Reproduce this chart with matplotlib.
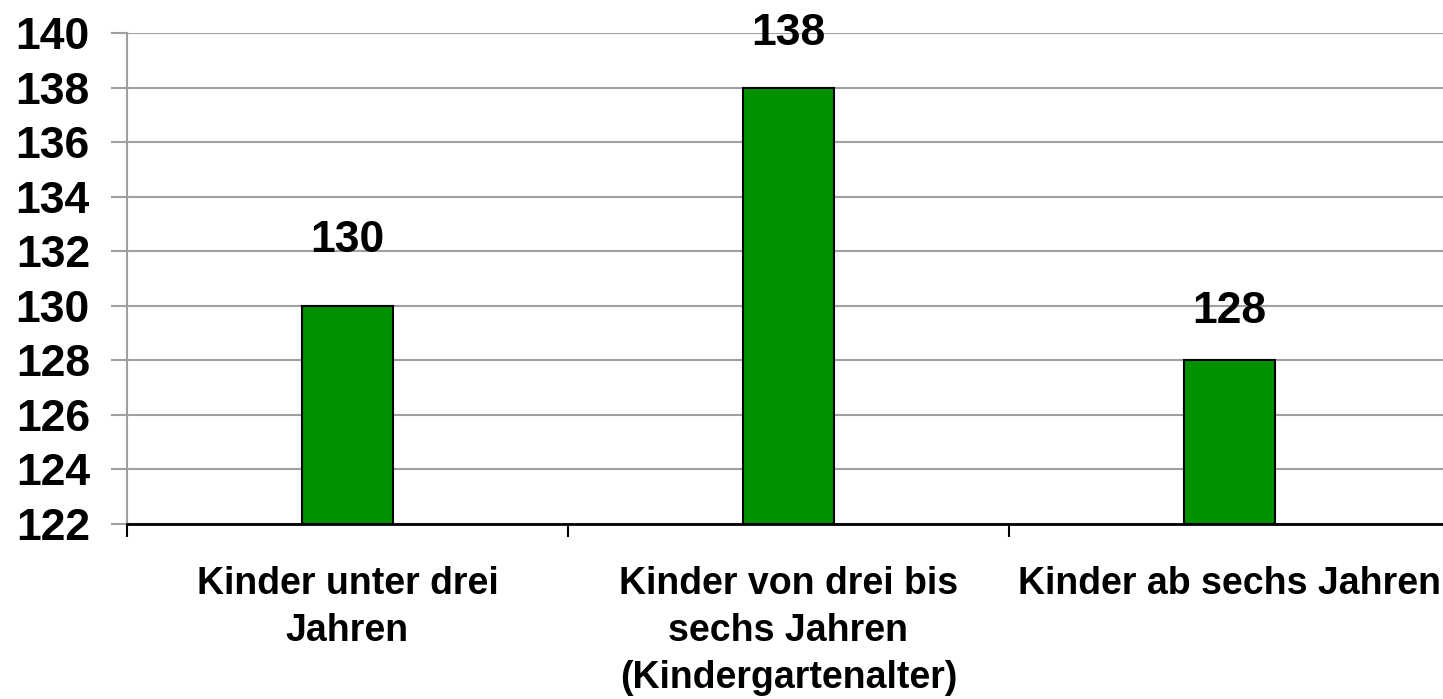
import matplotlib
matplotlib.use("Agg")
import matplotlib.pyplot as plt
import numpy as np

# ---- Data ----
categories = ["Kinder unter drei\nJahren",
              "Kinder von drei bis\nsechs Jahren\n(Kindergartenalter)",
              "Kinder ab sechs Jahren"]
values = [130, 138, 128]
y_ticks = [122, 124, 126, 128, 130, 132, 134, 136, 138, 140]

# ---- Style ----
plt.rcParams['font.family'] = ['Liberation Sans', 'DejaVu Sans']
plt.rcParams['font.weight'] = 'bold'
bar_color = "#009100"
grid_color = "#a0a0a0"
label_gap_px = [54, 43, 37]  # gap between bar top and value label (pixels)
px = 72 / 100  # points per pixel at dpi 100

fig = plt.figure(figsize=(14.43, 6.99), dpi=100)
W, H = 1443, 699
ax = fig.add_axes([127 / W, 1 - 524 / H, (1450 - 127) / W, (524 - 33) / H])

x = np.arange(len(values))
ax.bar(x, [v - y_ticks[0] for v in values], bottom=y_ticks[0], width=0.205,
       color=bar_color, edgecolor="black", linewidth=1.5, zorder=3)

ax.set_xlim(-0.5, len(values) - 0.5)
ax.set_ylim(y_ticks[0], y_ticks[-1])
ax.set_yticks(y_ticks)
ax.set_yticklabels([str(t) for t in y_ticks], fontsize=32, fontweight='bold')

# category ticks sit between categories, labels at category centres
ax.set_xticks(np.arange(len(values) + 1) - 0.5)
ax.set_xticklabels([])
ax.set_xticks(x, minor=True)
ax.set_xticklabels(categories, minor=True, fontsize=27, fontweight='bold',
                   linespacing=1.4, va='top')
ax.tick_params(axis='x', which='minor', length=0, pad=42 * px)
ax.tick_params(axis='x', which='major', length=13 * px, width=1.5,
               color='black', direction='out')
ax.tick_params(axis='y', length=16 * px, width=1.5, color=grid_color,
               pad=21 * px)

ax.yaxis.grid(True, color=grid_color, linewidth=1.5, zorder=0)
ax.set_axisbelow(True)

for side in ['top', 'right']:
    ax.spines[side].set_visible(False)
ax.spines['left'].set_color(grid_color)
ax.spines['left'].set_linewidth(1.5)
ax.spines['bottom'].set_color('black')
ax.spines['bottom'].set_linewidth(2)

# value labels above bars
for xi, v, gap in zip(x, values, label_gap_px):
    ax.annotate(str(v), (xi, v), xytext=(0, gap * px),
                textcoords='offset points', ha='center', va='baseline',
                fontsize=32, fontweight='bold', annotation_clip=False)

fig.savefig("out.png", dpi=100)
